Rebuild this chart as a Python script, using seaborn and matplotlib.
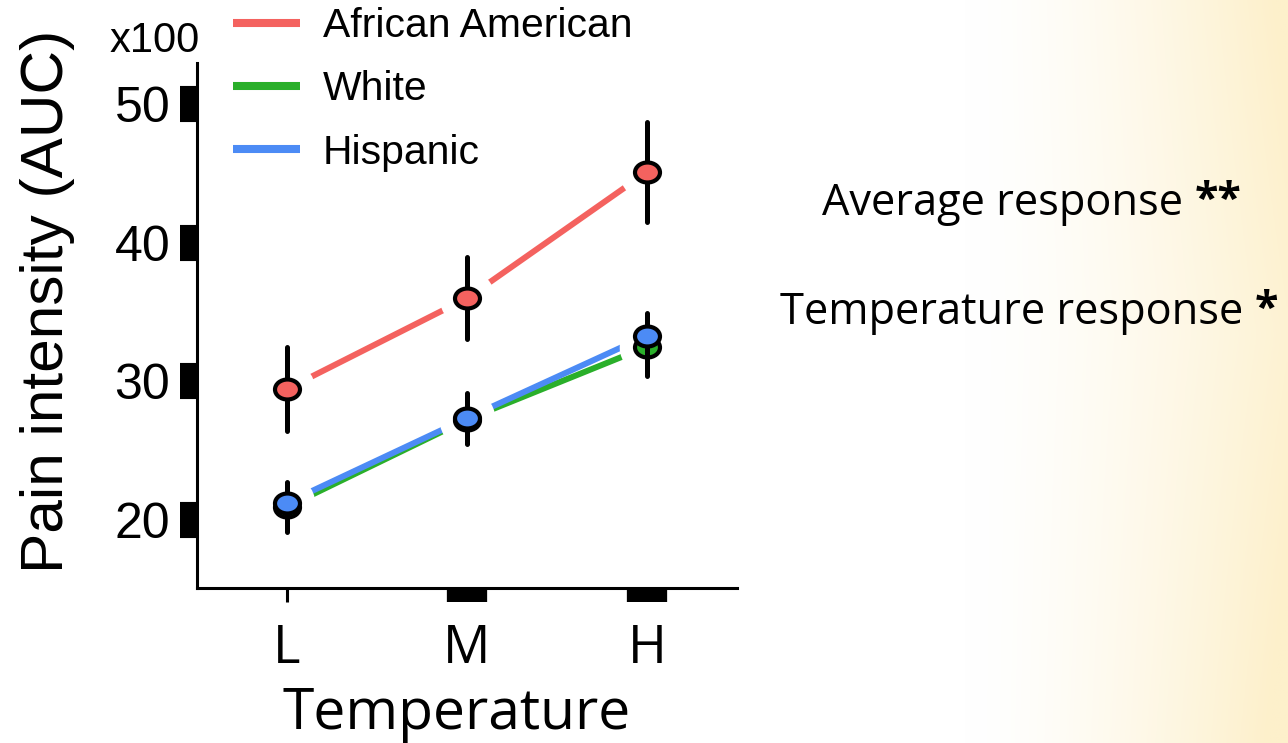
import numpy as np
import pandas as pd
import matplotlib
matplotlib.use("Agg")
import matplotlib.pyplot as plt
import seaborn as sns
from matplotlib.path import Path
from matplotlib.transforms import Affine2D
from matplotlib.lines import Line2D

# ---- data -------------------------------------------------------------
temperatures = ["L", "M", "H"]
groups = ["African American", "White", "Hispanic"]

african_american = [29.45, 36.0, 45.1]
african_american_err = [3.0, 2.95, 3.6]
white = [20.95, 27.25, 32.5]
white_err = [1.8, 1.8, 2.1]
hispanic = [21.25, 27.35, 33.3]
hispanic_err = [1.4, 1.8, 1.6]

y_ticks = [20, 30, 40, 50]
annotations = ["Average response", "Temperature response"]
stars = ["**", "*"]

palette = {"African American": "#F4625F", "White": "#2AAF2A", "Hispanic": "#4C8BF5"}

series = {
    "African American": (african_american, african_american_err),
    "White": (white, white_err),
    "Hispanic": (hispanic, hispanic_err),
}
records = []
for g in groups:
    vals, errs = series[g]
    for i, (t, v, e) in enumerate(zip(temperatures, vals, errs)):
        records.append({"group": g, "temperature": t, "pos": i, "value": v, "err": e})
df = pd.DataFrame(records)

# ---- style ------------------------------------------------------------
sns.set_theme(style="white")
plt.rcParams["font.family"] = ["Liberation Sans", "DejaVu Sans"]
plt.rcParams["text.color"] = "black"
plt.rcParams["xtick.color"] = "black"
plt.rcParams["ytick.color"] = "black"
plt.rcParams["xtick.labelcolor"] = "black"
plt.rcParams["ytick.labelcolor"] = "black"

W, H = 1288, 743
fig = plt.figure(figsize=(W / 100, H / 100), dpi=100)
fig.patch.set_facecolor("white")

# soft cream wash toward the right edge
bg = fig.add_axes([0, 0, 1, 1], zorder=-10)
xs = np.linspace(0, 1, 600)
ys = np.linspace(0, 1, 300)[:, None]
t = np.clip((xs[None, :] - 0.75) / 0.25, 0, 1) ** 1.5
t = np.clip(t * (0.85 + 0.25 * np.abs(ys - 0.45) / 0.55), 0, 1)
white_rgb = np.array([1.0, 1.0, 1.0])
cream_rgb = np.array([253, 240, 203]) / 255
img = white_rgb[None, None, :] * (1 - t[..., None]) + cream_rgb[None, None, :] * t[..., None]
bg.imshow(img, extent=[0, 1, 0, 1], aspect="auto", origin="upper")
bg.set_axis_off()

ax = fig.add_axes([197 / W, 1 - 588 / H, 540 / W, 525 / H])
ax.patch.set_alpha(0)

# connecting lines
sns.lineplot(data=df, x="pos", y="value", hue="group", hue_order=groups,
             palette=palette, linewidth=4.3, legend=False, ax=ax, zorder=1)

# white gap around each point
for g in groups:
    sub = df[df["group"] == g]
    ax.plot(sub["pos"], sub["value"], ls="none", marker="o", ms=40,
            mfc="white", mec="none", zorder=2)

ellipse = Affine2D().scale(1.0, 0.8).transform_path(Path.unit_circle())
for k, g in enumerate(groups):
    sub = df[df["group"] == g]
    eb = ax.errorbar(sub["pos"], sub["value"], yerr=sub["err"], fmt="none",
                     ecolor="black", elinewidth=3.6, capsize=0, zorder=3 + 2 * k)
    eb[2][0].set_capstyle("round")
    ax.plot(sub["pos"], sub["value"], ls="none", marker=ellipse, ms=18,
            mfc=palette[g], mec="black", mew=3.0, zorder=4 + 2 * k)

# axes
ax.set_xlim(-0.5, 2.5)
ax.set_ylim(15.1, 52.96)
for side in ["top", "right"]:
    ax.spines[side].set_visible(False)
for side in ["left", "bottom"]:
    ax.spines[side].set_linewidth(2.2)
    ax.spines[side].set_color("black")

ax.set_yticks(y_ticks)
ax.tick_params(axis="y", direction="out", length=12.2, width=26, color="black",
               pad=7, labelsize=36, left=True, labelcolor="black")
ax.set_xticks(range(len(temperatures)), temperatures)
ax.tick_params(axis="x", direction="out", length=10, width=29, color="black",
               pad=15, labelsize=38, bottom=True, labelcolor="black")
ax.xaxis.get_major_ticks()[0].tick1line.set_markeredgewidth(2.2)
for lbl in ax.get_xticklabels():
    lbl.set_fontfamily(["Open Sans", "DejaVu Sans"])
ax.set_xlabel("")
ax.set_ylabel("")

# labels
fig.text(110 / W, 1 - 52 / H, "x100", fontsize=30, ha="left", va="baseline")
fig.text(48 / W, 1 - 301 / H, "Pain intensity (AUC)", fontsize=43.5,
         rotation=90, ha="center", va="center")
fig.text(457 / W, 1 - 729 / H, "Temperature", fontsize=41, ha="center",
         va="baseline", family=["Open Sans", "DejaVu Sans"])

# significance notes
note_ends = [1183, 1243]
note_base = [215, 324]
for txt, st, xe, yb in zip(annotations, stars, note_ends, note_base):
    fig.text(xe / W, 1 - yb / H, txt, fontsize=31.2, ha="right", va="baseline",
             family=["Open Sans", "DejaVu Sans"])
    fig.text((xe + 12) / W, 1 - (yb - 2) / H, st, fontsize=31, ha="left",
             va="baseline", fontweight="bold", family=["Open Sans", "DejaVu Sans"])

# legend
handles = [Line2D([0], [0], color=palette[g], lw=5.8, solid_capstyle="butt") for g in groups]
fig.legend(handles, groups, loc="upper left", bbox_to_anchor=(233 / W, 1 - 7 / H),
           frameon=False, fontsize=29.4, handlelength=1.65, handletextpad=0.55,
           labelspacing=0.62, borderpad=0, borderaxespad=0, labelcolor="black")

fig.savefig("out.png", dpi=100)
